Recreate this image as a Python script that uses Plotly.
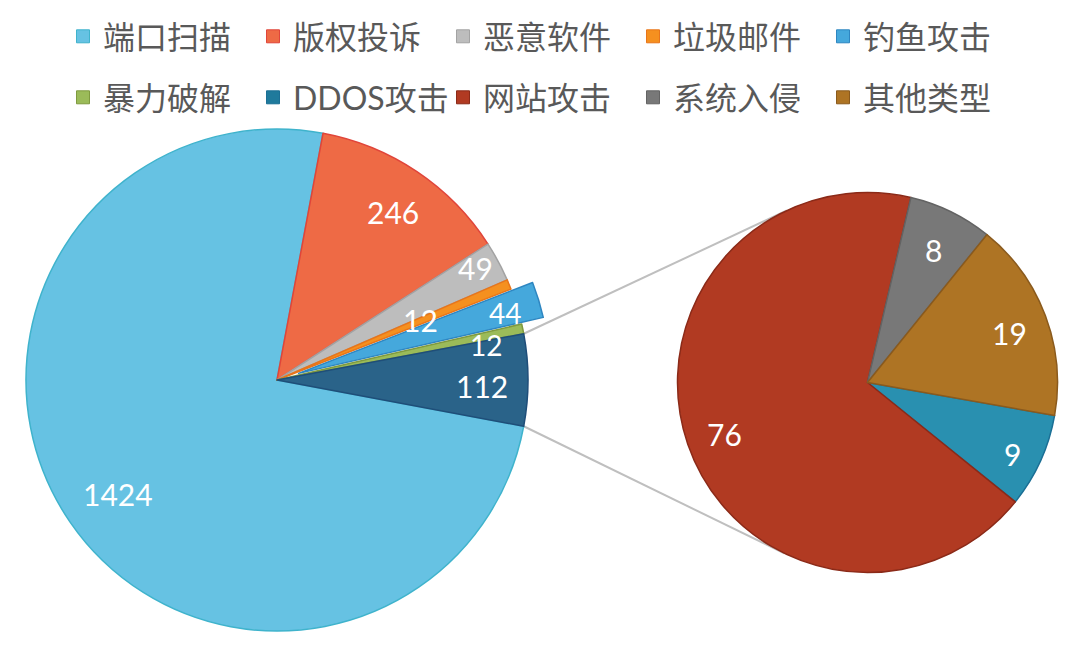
import math
import plotly.graph_objects as go

# ---------------- data ----------------
main_labels = ["端口扫描", "版权投诉", "恶意软件", "垃圾邮件", "钓鱼攻击", "暴力破解", "其他"]
main_values = [1424, 246, 49, 12, 44, 12, 112]
sub_labels = ["DDOS攻击", "网站攻击", "系统入侵", "其他类型"]
sub_values = [9, 76, 8, 19]
legend_row1 = ["端口扫描", "版权投诉", "恶意软件", "垃圾邮件", "钓鱼攻击"]
legend_row2 = ["暴力破解", "DDOS攻击", "网站攻击", "系统入侵", "其他类型"]

# ---------------- styles ----------------
fill = {
    "端口扫描": "#66c2e3", "版权投诉": "#ee6a45", "恶意软件": "#bdbdbd",
    "垃圾邮件": "#f5901f", "钓鱼攻击": "#45a8dc", "暴力破解": "#9bbb59",
    "其他": "#2a6389", "DDOS攻击": "#2990b0", "网站攻击": "#b13a22",
    "系统入侵": "#787878", "其他类型": "#ae7424",
}
edge = {
    "端口扫描": "#3fb3cc", "版权投诉": "#e0453a", "恶意软件": "#a3a3a3",
    "垃圾邮件": "#e8751a", "钓鱼攻击": "#2e86c1", "暴力破解": "#7f9a3f",
    "其他": "#1f4e79", "DDOS攻击": "#1b6f95", "网站攻击": "#8b2a18",
    "系统入侵": "#636363", "其他类型": "#8a5a1d",
}
legend_fill = dict(fill)
legend_fill["DDOS攻击"] = "#1f7a9c"

W, H = 1080, 654
MC = (277.0, 380.0)
MR = 251.0
PULL = 0.09
SC = (867.5, 382.5)
SR = 190.0
SUB_ROT = 100.0
NUM_FAMILY = "Lato, Open Sans, sans-serif"
LEG_FONT = dict(family="Lato, Noto Sans CJK SC, sans-serif", size=32, color="#595959")

# label placement: (radius fraction from unpulled centre, angle offset in degrees, font size)
main_lab_pos = [(0.78, -1.2, 30), (0.813, 0.8, 30), (0.906, -1.3, 30), (0.618, -0.3, 30),
                (0.945, 0.7, 28), (0.844, 2.3, 28), (0.817, 1.7, 30)]
sub_lab_pos = [(0.85, 2.0, 30), (0.80, -1.0, 30), (0.78, 0.5, 30), (0.79, 1.3, 30)]

total_main = sum(main_values)
main_rot = 90 + main_values[-1] / total_main * 180
pulls = [PULL if l == "钓鱼攻击" else 0 for l in main_labels]


def px2paper(x, y):
    return x / W, 1 - y / H


def domain(c, r, p):
    half = r * (1 + p)
    x0, y1 = px2paper(c[0] - half, c[1] - half)
    x1, y0 = px2paper(c[0] + half, c[1] + half)
    return dict(x=[max(0, x0), min(1, x1)], y=[max(0, y0), min(1, y1)])


def polar(c, r, ang):
    a = math.radians(ang)
    return c[0] + r * math.sin(a), c[1] - r * math.cos(a)


fig = go.Figure()

fig.add_trace(go.Pie(
    labels=main_labels, values=main_values, sort=False, direction="clockwise",
    rotation=main_rot, pull=pulls, textinfo="none", hoverinfo="label+value",
    marker=dict(colors=[fill[l] for l in main_labels],
                line=dict(color=[edge[l] for l in main_labels], width=1.5)),
    domain=domain(MC, MR, PULL), showlegend=False,
))
fig.add_trace(go.Pie(
    labels=sub_labels, values=sub_values, sort=False, direction="clockwise",
    rotation=SUB_ROT, textinfo="none", hoverinfo="label+value",
    marker=dict(colors=[fill[l] for l in sub_labels],
                line=dict(color=[edge[l] for l in sub_labels], width=1.5)),
    domain=domain(SC, SR, 0), showlegend=False,
))

annotations = []
cum = 0
for lab, v, (f, da, fs) in zip(main_labels, main_values, main_lab_pos):
    mid = main_rot + (cum + v / 2) / total_main * 360
    cum += v
    x, y = polar(MC, MR * f, mid + da)
    px, py = px2paper(x, y)
    annotations.append(dict(x=px, y=py, xref="paper", yref="paper", text=str(v),
                            showarrow=False, font=dict(family=NUM_FAMILY, size=fs, color="white"),
                            xanchor="center", yanchor="middle", borderpad=0))
total_sub = sum(sub_values)
cum = 0
for lab, v, (f, da, fs) in zip(sub_labels, sub_values, sub_lab_pos):
    mid = SUB_ROT + (cum + v / 2) / total_sub * 360
    cum += v
    x, y = polar(SC, SR * f, mid + da)
    px, py = px2paper(x, y)
    annotations.append(dict(x=px, y=py, xref="paper", yref="paper", text=str(v),
                            showarrow=False, font=dict(family=NUM_FAMILY, size=fs, color="white"),
                            xanchor="center", yanchor="middle", borderpad=0))

# connector lines: aggregate slice corners -> tangent points of secondary pie
agg_half = main_values[-1] / total_main * 180
shapes = []
for sgn in (-1, 1):
    sx, sy = polar(MC, MR, 90 + sgn * agg_half)
    dx, dy = sx - SC[0], sy - SC[1]
    d = math.hypot(dx, dy)
    base = math.atan2(dy, dx)
    t = base - sgn * math.acos(SR / d)
    tx, ty = SC[0] + SR * math.cos(t), SC[1] + SR * math.sin(t)
    x0, y0 = px2paper(sx, sy)
    x1, y1 = px2paper(tx, ty)
    shapes.append(dict(type="line", xref="paper", yref="paper", x0=x0, y0=y0, x1=x1, y1=y1,
                       line=dict(color="#bfbfbf", width=2), layer="below"))

for row, leg in ((legend_row1, "legend"), (legend_row2, "legend2")):
    for n in row:
        fig.add_trace(go.Scatter(
            x=[None], y=[None], mode="markers", name=n, legend=leg, hoverinfo="skip",
            marker=dict(symbol="square", size=13, color=legend_fill[n],
                        line=dict(color=edge[n], width=1)),
        ))

leg_common = dict(orientation="h", xanchor="left", yanchor="top", entrywidth=145,
                  entrywidthmode="pixels", font=LEG_FONT, bgcolor="rgba(0,0,0,0)",
                  itemclick=False, itemdoubleclick=False)

fig.update_layout(
    width=W, height=H, margin=dict(l=0, r=0, t=0, b=0),
    paper_bgcolor="white", plot_bgcolor="white",
    xaxis=dict(visible=False), yaxis=dict(visible=False),
    annotations=annotations, shapes=shapes,
    legend=dict(x=63 / W, y=1 - 9 / H, **leg_common),
    legend2=dict(x=63 / W, y=1 - 70 / H, **leg_common),
)

fig.write_html("out.html")
